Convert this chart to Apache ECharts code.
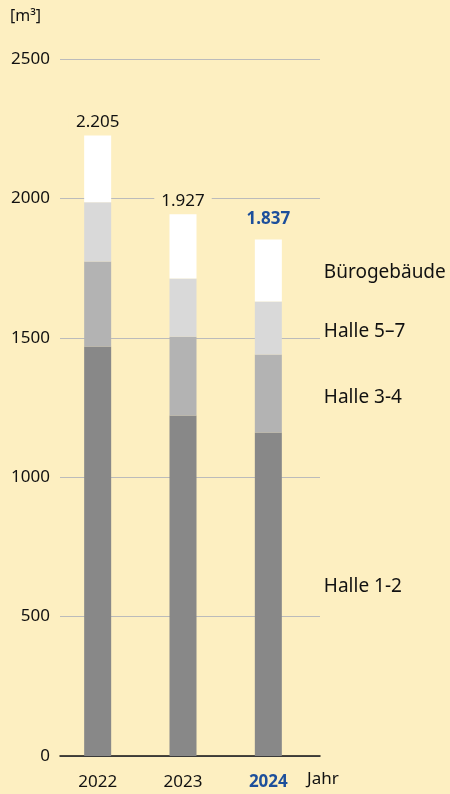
<!DOCTYPE html>
<html>
<head>
<meta charset="utf-8">
<script src="https://cdn.jsdelivr.net/npm/echarts@6/dist/echarts.min.js"></script>
<style>
  html, body { margin: 0; padding: 0; background: #fdefc1; }
  #chart { width: 450px; height: 794px; }
</style>
</head>
<body>
<div id="chart"></div>
<script>
// Jahre
var years = ['2022', '2023', '2024']
// Verbrauch je Gebäude [m³]
var halle12 = [1469, 1221, 1160]
var halle34 = [305, 283, 280]
var halle57 = [212, 209, 190]
var buero = [240, 230, 223]
// Summen (Beschriftung)
var totals = ['2.205', '1.927', '1.837']
var yTicks = [0, 500, 1000, 1500, 2000, 2500]

var bg = '#fdefc1'
var blue = '#1d4f9b'
var ink = '#111111'
var font = 'Noto Sans'

var chart = echarts.init(document.getElementById('chart'))

function segLabel(name, dy) {
  // Name nur am letzten Balken rechts anzeigen
  return {
    show: true,
    position: 'right',
    distance: 42,
    offset: [0, dy],
    fontFamily: font,
    fontSize: 19,
    color: ink,
    formatter: function (p) {
      return p.dataIndex === years.length - 1 ? name : ''
    }
  }
}

var tops = years.map(function (y, i) {
  return halle12[i] + halle34[i] + halle57[i] + buero[i]
})

chart.setOption({
  backgroundColor: bg,
  animation: false,
  textStyle: { fontFamily: font },
  grid: [
    { left: 60, right: 130, top: 59, bottom: 38 },
    { left: 55, right: 139, top: 59, bottom: 38 }
  ],
  xAxis: [
    {
      gridIndex: 0,
      type: 'value',
      min: 0,
      max: 1,
      axisLine: { show: true, onZero: false, lineStyle: { color: '#111', width: 1.5 } },
      axisTick: { show: false },
      axisLabel: { show: false },
      splitLine: { show: false }
    },
    {
      gridIndex: 1,
      type: 'category',
      data: years,
      axisLine: { show: false },
      axisTick: { show: false },
      axisLabel: {
        interval: 0,
        margin: 18,
        fontFamily: font,
        fontSize: 17,
        color: ink,
        formatter: function (v) {
          return v === years[years.length - 1] ? '{hl|' + v + '}' : v
        },
        rich: {
          hl: { color: blue, fontWeight: 'bold', fontSize: 17, fontFamily: font }
        }
      }
    }
  ],
  yAxis: [
    {
      gridIndex: 0,
      type: 'value',
      min: yTicks[0],
      max: yTicks[yTicks.length - 1],
      interval: 500,
      axisLine: { show: false },
      axisTick: { show: false },
      axisLabel: {
        margin: 10,
        fontFamily: font,
        fontSize: 17,
        color: ink,
        formatter: function (v) { return String(v) }
      },
      splitLine: { lineStyle: { color: '#bbbbbb', width: 1 } }
    },
    {
      gridIndex: 1,
      type: 'value',
      min: yTicks[0],
      max: yTicks[yTicks.length - 1],
      show: false
    }
  ],
  graphic: [
    {
      type: 'text',
      left: 10,
      top: 8,
      style: { text: '[m³]', fontFamily: font, fontSize: 16, fill: ink }
    },
    {
      type: 'text',
      left: 307,
      top: 771,
      style: { text: 'Jahr', fontFamily: font, fontSize: 17, fill: ink }
    }
  ],
  series: [
    {
      name: 'Halle 1-2', type: 'bar', stack: 'a', xAxisIndex: 1, yAxisIndex: 1,
      barWidth: 27, itemStyle: { color: '#888888' },
      label: segLabel('Halle 1-2', -8), data: halle12
    },
    {
      name: 'Halle 3-4', type: 'bar', stack: 'a', xAxisIndex: 1, yAxisIndex: 1,
      barWidth: 27, itemStyle: { color: '#b3b3b3' },
      label: segLabel('Halle 3-4', 4), data: halle34
    },
    {
      name: 'Halle 5–7', type: 'bar', stack: 'a', xAxisIndex: 1, yAxisIndex: 1,
      barWidth: 27, itemStyle: { color: '#d9d9d9' },
      label: segLabel('Halle 5–7', 4), data: halle57
    },
    {
      name: 'Bürogebäude', type: 'bar', stack: 'a', xAxisIndex: 1, yAxisIndex: 1,
      barWidth: 27, itemStyle: { color: '#ffffff' },
      label: segLabel('Bürogebäude', 2), data: buero
    },
    {
      // Summenbeschriftung
      type: 'scatter', xAxisIndex: 1, yAxisIndex: 1,
      symbolSize: 0,
      itemStyle: { opacity: 1 },
      data: tops.map(function (t, i) {
        var last = i === years.length - 1
        return {
          value: [years[i], t],
          label: {
            show: true,
            position: 'top',
            distance: last ? 12 : 5,
            formatter: totals[i],
            fontFamily: font,
            fontSize: 17,
            color: last ? blue : ink,
            fontWeight: last ? 'bold' : 'normal',
            backgroundColor: bg,
            padding: [0, 7]
          }
        }
      })
    }
  ]
})
</script>
</body>
</html>
